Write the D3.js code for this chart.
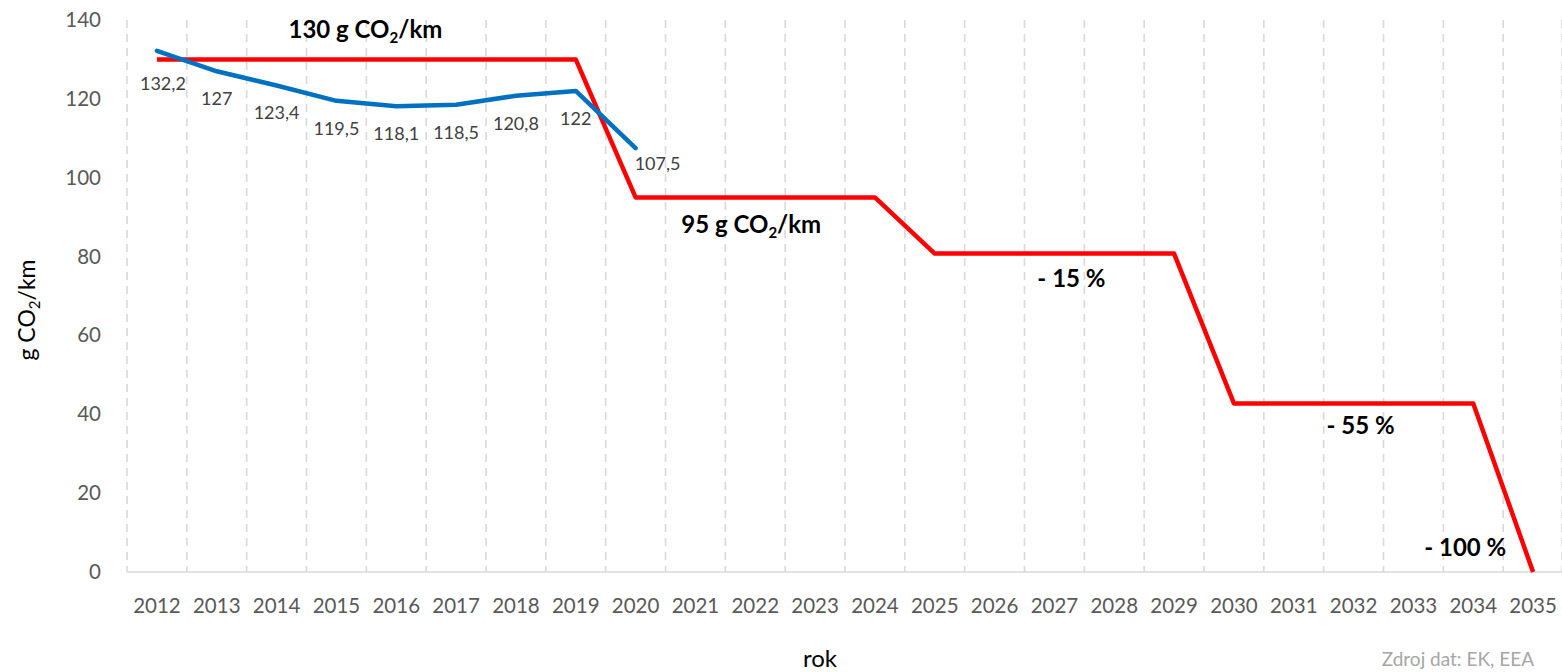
<!DOCTYPE html>
<html>
<head>
<meta charset="utf-8">
<script src="https://cdn.jsdelivr.net/npm/d3@7"></script>
<style>
  html, body { margin: 0; padding: 0; background: #fff; }
  svg { display: block; font-family: Lato, "Open Sans", sans-serif; }
</style>
</head>
<body>
<svg id="chart" width="1562" height="672"></svg>
<script>
// ---- data ----
const years = ["2012","2013","2014","2015","2016","2017","2018","2019","2020","2021","2022","2023",
               "2024","2025","2026","2027","2028","2029","2030","2031","2032","2033","2034","2035"];
const limitValues = [130,130,130,130,130,130,130,130,95,95,95,95,95,80.75,80.75,80.75,80.75,80.75,
                     42.75,42.75,42.75,42.75,42.75,0];
const actualYears = ["2012","2013","2014","2015","2016","2017","2018","2019","2020"];
const actualValues = [132.2,127,123.4,119.5,118.1,118.5,120.8,122,107.5];
const actualLabels = ["132,2","127","123,4","119,5","118,1","118,5","120,8","122","107,5"];
const yTicks = [0,20,40,60,80,100,120,140];
const annotations = [
  {year:"2015", value:130, main:"130 g CO", sub:"2", tail:"/km"},
  {year:"2022", value:95, main:"95 g CO", sub:"2", tail:"/km"},
  {year:"2027", value:80.75, main:"- 15 %"},
  {year:"2032", value:42.75, main:"- 55 %"},
  {year:"2034", value:0, main:"- 100 %"}
];

// ---- layout ----
const svg = d3.select("#chart");
const mLeft = 127, mRight = 1563, mTop = 20, mBottom = 572;

const x = d3.scaleBand().domain(years).range([mLeft, mRight]);
const cx = d => x(d) + x.bandwidth() / 2;
const y = d3.scaleLinear().domain([0, 140]).range([mBottom, mTop]);

// vertical dashed gridlines at category boundaries
const bounds = years.map(d => x(d)).concat([mRight - 1]);
svg.append("g").selectAll("line").data(bounds).join("line")
  .attr("x1", d => d).attr("x2", d => d)
  .attr("y1", y(140)).attr("y2", y(0))
  .attr("stroke", "#d9d9d9").attr("stroke-width", 1.6)
  .attr("stroke-dasharray", "8,6");

// x axis line
svg.append("line")
  .attr("x1", mLeft).attr("x2", mRight).attr("y1", y(0)).attr("y2", y(0))
  .attr("stroke", "#d9d9d9").attr("stroke-width", 1.6);

// x tick labels
svg.append("g").selectAll("text").data(years).join("text")
  .attr("x", d => cx(d)).attr("y", 613)
  .attr("text-anchor", "middle")
  .attr("font-size", 20.5).attr("fill", "#595959")
  .text(d => d);

// y tick labels
svg.append("g").selectAll("text").data(yTicks).join("text")
  .attr("x", 101).attr("y", d => y(d) + 7)
  .attr("text-anchor", "end")
  .attr("font-size", 20.5).attr("fill", "#595959")
  .text(d => d);

// y axis title
const yt = svg.append("text")
  .attr("transform", `translate(35,${(mTop + mBottom) / 2 + 14}) rotate(-90)`)
  .attr("text-anchor", "middle").attr("font-size", 23).attr("fill", "#000");
yt.append("tspan").text("g CO");
yt.append("tspan").attr("font-size", 15).attr("dy", 5).text("2");
yt.append("tspan").attr("dy", -5).text("/km");

// x axis title
svg.append("text").attr("x", 820).attr("y", 667)
  .attr("text-anchor", "middle").attr("font-size", 24).attr("fill", "#000").text("rok");

// source
svg.append("text").attr("x", 1534).attr("y", 666)
  .attr("text-anchor", "end").attr("font-size", 19).attr("fill", "#a6a6a6").text("Zdroj dat: EK, EEA");

// red limit line
const lineGen = d3.line().x(d => cx(d[0])).y(d => y(d[1]));
svg.append("path")
  .datum(years.map((d, i) => [d, limitValues[i]]))
  .attr("d", lineGen)
  .attr("fill", "none").attr("stroke", "#ff0000").attr("stroke-width", 4.5)
  .attr("stroke-linejoin", "round");

// blue actual line
svg.append("path")
  .datum(actualYears.map((d, i) => [d, actualValues[i]]))
  .attr("d", lineGen)
  .attr("fill", "none").attr("stroke", "#0070c0").attr("stroke-width", 4.5)
  .attr("stroke-linejoin", "round").attr("stroke-linecap", "round");

// blue data labels
svg.append("g").selectAll("text").data(actualYears).join("text")
  .attr("x", (d, i) => cx(d) + (i === actualYears.length - 1 ? 22 : (i === 0 ? 6 : 0)))
  .attr("y", (d, i) => y(actualValues[i]) + (i === actualYears.length - 1 ? 22 : (i === 0 ? 39 : 34)))
  .attr("text-anchor", "middle").attr("font-size", 18).attr("fill", "#404040")
  .text((d, i) => actualLabels[i]);

// annotations
const annOffsets = [-21, 36, 33, 31, -16];
const annDx = [29, -4, 17, 7, -8];
annotations.forEach((a, i) => {
  const t = svg.append("text")
    .attr("x", cx(a.year) + annDx[i]).attr("y", y(a.value) + annOffsets[i])
    .attr("text-anchor", "middle").attr("font-size", 24).attr("font-weight", "bold").attr("fill", "#000");
  t.append("tspan").text(a.main);
  if (a.sub) {
    t.append("tspan").attr("font-size", 15).attr("dy", 5).text(a.sub);
    t.append("tspan").attr("dy", -5).text(a.tail);
  }
});
</script>
</body>
</html>
